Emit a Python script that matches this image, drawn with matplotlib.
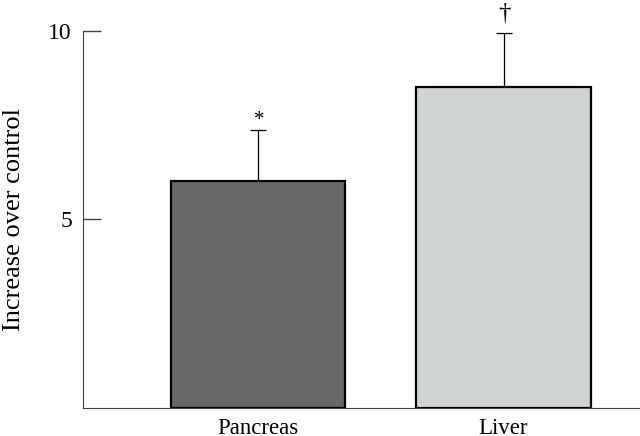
import matplotlib
matplotlib.use('Agg')
import matplotlib.pyplot as plt

tissues = ['Pancreas', 'Liver']
increase = [6.02, 8.51]
sem = [1.34, 1.42]
marks = ['*', '\u2020']
bar_colors = ['#676767', '#d1d3d3']

plt.rcParams['font.family'] = ['Liberation Serif', 'DejaVu Serif']

fig = plt.figure(figsize=(6.4, 4.36), dpi=100)
ax = fig.add_axes([0.1297, 0.0642, 0.8703, 0.8658])

x = list(range(len(tissues)))
ax.bar(x, increase, width=0.709, color=bar_colors, edgecolor='black',
       linewidth=1.6, zorder=2)
ax.errorbar(x, increase, yerr=[[0] * len(sem), sem], fmt='none',
            ecolor='black', elinewidth=0.9, capsize=6, capthick=0.9, zorder=1)
# significance marks above the error bars
mark_size = [15, 18]
mark_gap = [0.15, 0.36]
for xi, v, e, m, fs, g in zip(x, increase, sem, marks, mark_size, mark_gap):
    ax.text(xi + 0.003, v + e + g, m, ha='center', va='baseline', fontsize=fs)

ax.set_xlim(-0.713, 1.556)
ax.set_ylim(0, 10)
ax.set_yticks([5, 10])
ax.set_xticks(x)
ax.set_xticklabels(tissues)
ax.set_ylabel('Increase over control', fontsize=19, labelpad=17)

ax.spines['right'].set_color('none')
ax.spines['top'].set_color('none')
ax.spines['left'].set_color('#444444')
ax.spines['bottom'].set_color('#444444')
ax.tick_params(axis='y', direction='in', length=13, width=1, colors='#444444',
               labelcolor='black', labelsize=17, pad=8)
ax.tick_params(axis='x', length=0, labelsize=16.5, pad=7)

fig.savefig('out.png', dpi=100)
